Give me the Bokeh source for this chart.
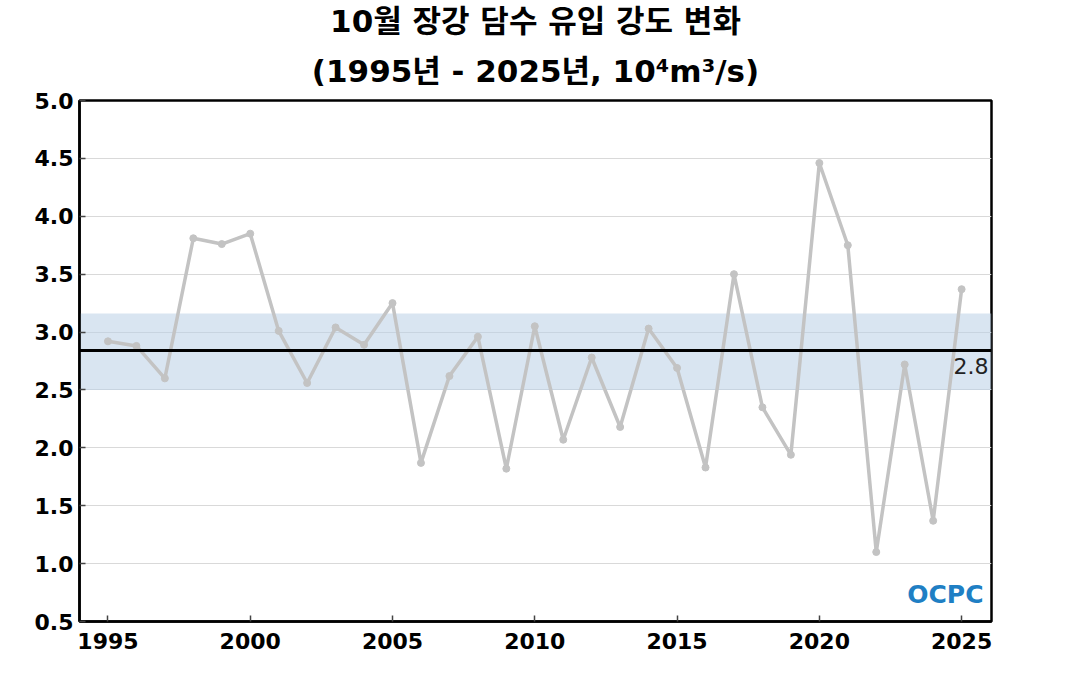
from bokeh.plotting import figure
from bokeh.models import (Title, Label, BoxAnnotation, Span, FixedTicker, ColumnDataSource, Range1d)
from bokeh.embed import file_html
from bokeh.resources import INLINE

years = list(range(1995, 2026))
values = [2.92, 2.88, 2.60, 3.81, 3.76, 3.85, 3.01, 2.56, 3.04, 2.89,
          3.25, 1.87, 2.62, 2.96, 1.82, 3.05, 2.07, 2.78, 2.18, 3.03,
          2.69, 1.83, 3.50, 2.35, 1.94, 4.46, 3.75, 1.10, 2.72, 1.37,
          3.37]
mean_value = 2.84
band_low = 2.50
band_high = 3.16
x_ticks = [1995, 2000, 2005, 2010, 2015, 2020, 2025]
y_ticks = [0.5, 1.0, 1.5, 2.0, 2.5, 3.0, 3.5, 4.0, 4.5, 5.0]
title_line1 = "10월 장강 담수 유입 강도 변화"
title_line2 = "(1995년 - 2025년, 10⁴m³/s)"
mean_label = "2.8"
logo_text = "OCPC"

FONT = "DejaVu Sans, Noto Sans CJK KR"

p = figure(width=1058, height=688, output_backend="svg", toolbar_location=None,
           x_range=Range1d(1994.0, 2026.05), y_range=Range1d(0.5, 5.0),
           min_border_left=79, min_border_right=67, min_border_bottom=67,
           min_border_top=0)
p.title = None

t2 = Title(text=title_line2, align="center", text_font=FONT, text_font_size="31px",
           text_font_style="bold", text_color="black", standoff=24, text_line_height=0.8)
t1 = Title(text=title_line1, align="center", text_font=FONT, text_font_size="31px",
           text_font_style="bold", text_color="black", standoff=0, text_line_height=0.8)
p.add_layout(t2, "above")
p.add_layout(t1, "above")

p.outline_line_color = "black"
p.outline_line_width = 2.5
p.background_fill_color = "white"
p.border_fill_color = "white"

p.xgrid.visible = False
p.ygrid.grid_line_color = "#d9d9d9"
p.ygrid.grid_line_width = 1

band = BoxAnnotation(bottom=band_low, top=band_high, fill_color="#b9cfe6",
                     fill_alpha=0.55, line_color=None, level="underlay")
p.add_layout(band)

src = ColumnDataSource(dict(x=years, y=values))
p.line("x", "y", source=src, line_color="#c3c3c3", line_width=3.5)
p.scatter("x", "y", source=src, size=7, color="#c3c3c3")

p.add_layout(Span(location=mean_value, dimension="width", line_color="black", line_width=3))

p.add_layout(Label(x=2026.05, y=mean_value, text=mean_label, text_align="right",
                   text_baseline="top", y_offset=-7, x_offset=-3, text_font=FONT,
                   text_font_size="22px", text_color="#222222"))

p.add_layout(Label(x=2026.05, y=0.5, text=logo_text, text_align="right",
                   text_baseline="bottom", y_offset=13, x_offset=-8, text_font=FONT,
                   text_font_size="25px", text_font_style="bold", text_color="#1f7fc4"))

for ax in (p.xaxis[0], p.yaxis[0]):
    ax.axis_line_color = "black"
    ax.axis_line_width = 2.5
    ax.major_tick_in = 6
    ax.major_tick_out = 0
    ax.major_tick_line_color = "#444444"
    ax.major_tick_line_width = 1.5
    ax.minor_tick_line_color = None
    ax.major_label_text_font = FONT
    ax.major_label_text_font_size = "22px"
    ax.major_label_text_font_style = "bold"
    ax.major_label_text_color = "black"

p.xaxis.ticker = FixedTicker(ticks=x_ticks)
p.yaxis.ticker = FixedTicker(ticks=y_ticks)
p.yaxis.major_label_overrides = {v: f"{v:.1f}" for v in y_ticks}
p.xaxis.major_label_standoff = 11
p.yaxis.major_label_standoff = 6

open("out.html", "w").write(file_html(p, INLINE))
